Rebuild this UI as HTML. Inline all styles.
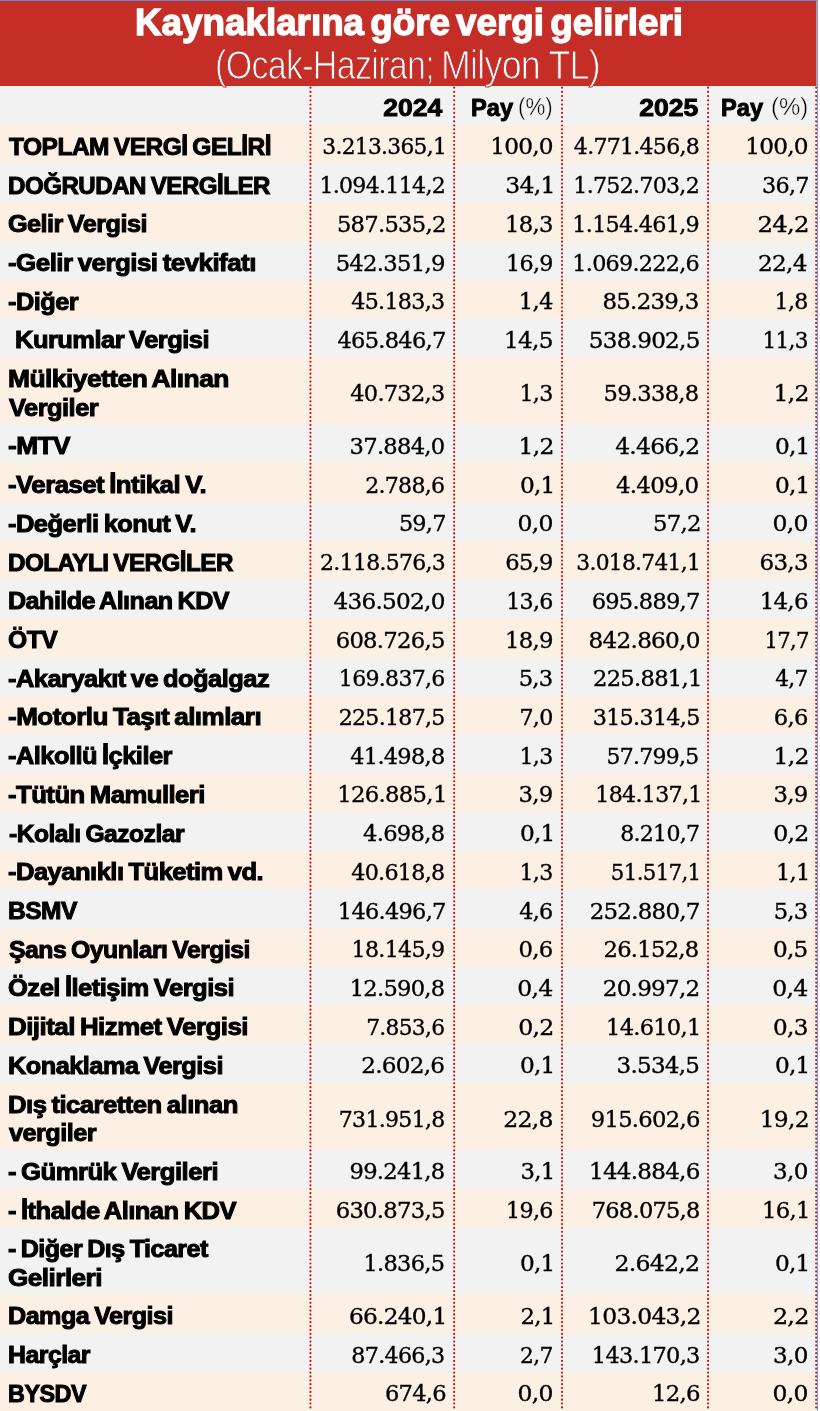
<!DOCTYPE html><html lang="tr"><head><meta charset="utf-8"><title>Kaynaklarına göre vergi gelirleri</title>
<style>
html,body{margin:0;padding:0;background:#fff}
body{width:820px;height:1411px;position:relative;overflow:hidden;font-family:"Liberation Sans", sans-serif;color:#000}
#wrap{position:absolute;left:0;top:0;width:817px;height:1411px;overflow:hidden;background:#f2f2f2}
#topline{position:absolute;left:0;top:0;width:818px;height:1px;background:#6688d8;z-index:5}
#rightline{position:absolute;left:817px;top:0;width:1px;height:1411px;background:#70a6fb;z-index:5}
#hdr{position:absolute;left:0;top:0;width:816px;height:86px;background:#c42e27;color:#fff;z-index:3;border-right:1px solid #dc8583}
.t{position:absolute;white-space:nowrap;transform-origin:0 0;line-height:1}
#t1{font-weight:700;font-size:36px;word-spacing:-4px;-webkit-text-stroke:1.3px #fff}
.t2{font-weight:400;font-size:40px;letter-spacing:-0.8px;-webkit-text-stroke:1px #c42e27}
.row{position:absolute;left:0;width:817px}
.p{background:#fcefe4}
.g{background:#f2f2f2}
.lab{position:absolute;left:0;top:0;white-space:nowrap;font-weight:700;font-size:24.4px;line-height:1;transform-origin:0 0;letter-spacing:-0.5px;word-spacing:-1.5px;-webkit-text-stroke:1.0px #000}
.num{position:absolute;top:0;white-space:nowrap;font-family:"DejaVu Serif","Liberation Serif", serif;font-size:21.8px;line-height:1;letter-spacing:-0.7px;transform-origin:100% 0;text-align:right;-webkit-text-stroke:0.35px #000}
.hb{position:absolute;white-space:nowrap;font-weight:700;font-size:23.5px;line-height:1;transform-origin:0 0;-webkit-text-stroke:0.9px #000}
.hp{position:absolute;white-space:nowrap;font-weight:400;font-size:23px;line-height:1;transform-origin:0 0;color:#000;-webkit-text-stroke:0.4px #f2f2f2}
</style></head><body>
<div id="wrap">
<div id="hdr">
<div class="t" id="t1" style="transform: scaleX(1.0221); top: 4.72px; left: 134.5px; transform-origin: 0px 0px;">Kaynaklarına göre vergi gelirleri</div>
<div class="t t2" id="t2" style="transform: scaleX(0.8496); top: 45.13px; left: 215px; transform-origin: 0px 0px;">(Ocak-Haziran;</div>
<div class="t t2" id="t3" style="transform: scaleX(0.8931); top: 45.13px; left: 440.5px; transform-origin: 0px 0px;">Milyon TL)</div>
</div>

<div class="row g" style="top:86px;height:39px">
<div class="hb" id="h1" style="transform: scaleX(1.1293); top: 10.7px; left: auto; right: 374.5px; transform-origin: 100% 0px;">2024</div><div class="hb" id="h2" style="transform: scaleX(1.0054); top: 10.7px; left: 471px; transform-origin: 0px 0px;">Pay</div><div class="hp" id="h3" style="transform: scaleX(0.9731); top: 10.13px; left: 518px; transform-origin: 0px 0px;">(%)</div><div class="hb" id="h4" style="transform: scaleX(1.1308); top: 10.7px; left: auto; right: 118.5px; transform-origin: 100% 0px;">2025</div><div class="hb" id="h5" style="transform: scaleX(1.0054); top: 10.7px; left: 721px; transform-origin: 0px 0px;">Pay</div><div class="hp" id="h6" style="transform: scaleX(1.0417); top: 10.13px; left: 771px; transform-origin: 0px 0px;">(%)</div>
</div>
<div class="row p" id="r0" style="top:125.00px;height:39.22px">
<div class="lab" id="l0_0" style="transform: scaleX(1.0048); top: 9.84px; left: 9px; transform-origin: 0px 0px;">TOPLAM VERGİ GELİRİ</div>
<div class="num" id="n0_0" style="right: 370.5px; transform: scaleX(0.9975); top: 11.45px; left: auto; transform-origin: 100% 0px;">3.213.365,1</div>
<div class="num" id="n0_1" style="right: 264.5px; transform: scaleX(1.0651); top: 11.45px; left: auto; transform-origin: 100% 0px;">100,0</div>
<div class="num" id="n0_2" style="right: 117.5px; transform: scaleX(1.0094); top: 11.45px; left: auto; transform-origin: 100% 0px;">4.771.456,8</div>
<div class="num" id="n0_3" style="right: 9.5px; transform: scaleX(1.0651); top: 11.45px; left: auto; transform-origin: 100% 0px;">100,0</div>
</div>
<div class="row g" id="r1" style="top:163.72px;height:39.22px">
<div class="lab" id="l1_0" style="transform: scaleX(0.9885); top: 9.84px; left: 8px; transform-origin: 0px 0px;">DOĞRUDAN VERGİLER</div>
<div class="num" id="n1_0" style="right: 371.5px; transform: scaleX(1.0131); top: 11.45px; left: auto; transform-origin: 100% 0px;">1.094.114,2</div>
<div class="num" id="n1_1" style="right: 262.5px; transform: scaleX(1.0813); top: 11.45px; left: auto; transform-origin: 100% 0px;">34,1</div>
<div class="num" id="n1_2" style="right: 117.5px; transform: scaleX(1.0139); top: 11.45px; left: auto; transform-origin: 100% 0px;">1.752.703,2</div>
<div class="num" id="n1_3" style="right: 8.5px; transform: scaleX(1.0229); top: 11.45px; left: auto; transform-origin: 100% 0px;">36,7</div>
</div>
<div class="row p" id="r2" style="top:202.44px;height:39.22px">
<div class="lab" id="l2_0" style="transform: scaleX(1.0345); top: 9.84px; left: 8px; transform-origin: 0px 0px;">Gelir Vergisi</div>
<div class="num" id="n2_0" style="right: 371.5px; transform: scaleX(1.0391); top: 11.46px; left: auto; transform-origin: 100% 0px;">587.535,2</div>
<div class="num" id="n2_1" style="right: 264.5px; transform: scaleX(1.0433); top: 11.46px; left: auto; transform-origin: 100% 0px;">18,3</div>
<div class="num" id="n2_2" style="right: 117.5px; transform: scaleX(1.0217); top: 11.46px; left: auto; transform-origin: 100% 0px;">1.154.461,9</div>
<div class="num" id="n2_3" style="right: 8.5px; transform: scaleX(1.118); top: 11.46px; left: auto; transform-origin: 100% 0px;">24,2</div>
</div>
<div class="row g" id="r3" style="top:241.16px;height:39.22px">
<div class="lab" id="l3_0" style="transform: scaleX(1.0635); top: 9.84px; left: 8px; transform-origin: 0px 0px;">-Gelir vergisi tevkifatı</div>
<div class="num" id="n3_0" style="right: 372.5px; transform: scaleX(1.0417); top: 11.46px; left: auto; transform-origin: 100% 0px;">542.351,9</div>
<div class="num" id="n3_1" style="right: 264.5px; transform: scaleX(1.0197); top: 11.46px; left: auto; transform-origin: 100% 0px;">16,9</div>
<div class="num" id="n3_2" style="right: 117.5px; transform: scaleX(1.0217); top: 11.46px; left: auto; transform-origin: 100% 0px;">1.069.222,6</div>
<div class="num" id="n3_3" style="right: 10.5px; transform: scaleX(1.0633); top: 11.46px; left: auto; transform-origin: 100% 0px;">22,4</div>
</div>
<div class="row p" id="r4" style="top:279.88px;height:39.22px">
<div class="lab" id="l4_0" style="transform: scaleX(1.0384); top: 9.85px; left: 8px; transform-origin: 0px 0px;">-Diğer</div>
<div class="num" id="n4_0" style="right: 372.5px; transform: scaleX(1.0188); top: 11.46px; left: auto; transform-origin: 100% 0px;">45.183,3</div>
<div class="num" id="n4_1" style="right: 264.5px; transform: scaleX(1.038); top: 11.46px; left: auto; transform-origin: 100% 0px;">1,4</div>
<div class="num" id="n4_2" style="right: 118.5px; transform: scaleX(1.0495); top: 11.46px; left: auto; transform-origin: 100% 0px;">85.239,3</div>
<div class="num" id="n4_3" style="right: 9.5px; transform: scaleX(1.013); top: 11.46px; left: auto; transform-origin: 100% 0px;">1,8</div>
</div>
<div class="row g" id="r5" style="top:318.60px;height:39.22px">
<div class="lab" id="l5_0" style="transform: scaleX(1.045); top: 9.85px; left: 15px; transform-origin: 0px 0px;">Kurumlar Vergisi</div>
<div class="num" id="n5_0" style="right: 371.5px; transform: scaleX(1.0339); top: 11.46px; left: auto; transform-origin: 100% 0px;">465.846,7</div>
<div class="num" id="n5_1" style="right: 264.5px; transform: scaleX(1.0632); top: 11.46px; left: auto; transform-origin: 100% 0px;">14,5</div>
<div class="num" id="n5_2" style="right: 117.5px; transform: scaleX(1.0598); top: 11.46px; left: auto; transform-origin: 100% 0px;">538.902,5</div>
<div class="num" id="n5_3" style="right: 9.5px; transform: scaleX(0.9917); top: 11.46px; left: auto; transform-origin: 100% 0px;">11,3</div>
</div>
<div class="row p" id="r6" style="top:357.32px;height:67.70px">
<div class="lab" id="l6_0" style="transform: scaleX(1.0822); top: 9.85px; left: 8px; transform-origin: 0px 0px;">Mülkiyetten Alınan</div>
<div class="lab" id="l6_1" style="transform: scaleX(1.0428); top: 38.55px; left: 9px; transform-origin: 0px 0px;">Vergiler</div>
<div class="num" id="n6_0" style="right: 372.5px; transform: scaleX(1.0298); top: 25.96px; left: auto; transform-origin: 100% 0px;">40.732,3</div>
<div class="num" id="n6_1" style="right: 264.5px; transform: scaleX(1.0162); top: 25.96px; left: auto; transform-origin: 100% 0px;">1,3</div>
<div class="num" id="n6_2" style="right: 118.5px; transform: scaleX(1.0383); top: 25.96px; left: auto; transform-origin: 100% 0px;">59.338,8</div>
<div class="num" id="n6_3" style="right: 8.5px; transform: scaleX(1.0756); top: 25.96px; left: auto; transform-origin: 100% 0px;">1,2</div>
</div>
<div class="row g" id="r7" style="top:424.52px;height:39.22px">
<div class="lab" id="l7_0" style="transform: scaleX(1.0763); top: 9.84px; left: 8px; transform-origin: 0px 0px;">-MTV</div>
<div class="num" id="n7_0" style="right: 372.5px; transform: scaleX(1.0375); top: 11.46px; left: auto; transform-origin: 100% 0px;">37.884,0</div>
<div class="num" id="n7_1" style="right: 263.5px; transform: scaleX(1.0756); top: 11.46px; left: auto; transform-origin: 100% 0px;">1,2</div>
<div class="num" id="n7_2" style="right: 117.5px; transform: scaleX(1.0744); top: 11.46px; left: auto; transform-origin: 100% 0px;">4.466,2</div>
<div class="num" id="n7_3" style="right: 7.5px; transform: scaleX(1.0642); top: 11.46px; left: auto; transform-origin: 100% 0px;">0,1</div>
</div>
<div class="row p" id="r8" style="top:463.24px;height:39.22px">
<div class="lab" id="l8_0" style="transform: scaleX(1.0578); top: 9.85px; left: 8px; transform-origin: 0px 0px;">-Veraset İntikal V.</div>
<div class="num" id="n8_0" style="right: 372.5px; transform: scaleX(1.0105); top: 11.46px; left: auto; transform-origin: 100% 0px;">2.788,6</div>
<div class="num" id="n8_1" style="right: 262.5px; transform: scaleX(1.0642); top: 11.46px; left: auto; transform-origin: 100% 0px;">0,1</div>
<div class="num" id="n8_2" style="right: 118.5px; transform: scaleX(1.0514); top: 11.46px; left: auto; transform-origin: 100% 0px;">4.409,0</div>
<div class="num" id="n8_3" style="right: 7.5px; transform: scaleX(1.0642); top: 11.46px; left: auto; transform-origin: 100% 0px;">0,1</div>
</div>
<div class="row g" id="r9" style="top:501.96px;height:39.22px">
<div class="lab" id="l9_0" style="transform: scaleX(1.0441); top: 9.85px; left: 8px; transform-origin: 0px 0px;">-Değerli konut V.</div>
<div class="num" id="n9_0" style="right: 371.5px; transform: scaleX(1.0245); top: 11.46px; left: auto; transform-origin: 100% 0px;">59,7</div>
<div class="num" id="n9_1" style="right: 264.5px; transform: scaleX(1.0774); top: 11.46px; left: auto; transform-origin: 100% 0px;">0,0</div>
<div class="num" id="n9_2" style="right: 116.5px; transform: scaleX(1.045); top: 11.46px; left: auto; transform-origin: 100% 0px;">57,2</div>
<div class="num" id="n9_3" style="right: 9.5px; transform: scaleX(1.0774); top: 11.46px; left: auto; transform-origin: 100% 0px;">0,0</div>
</div>
<div class="row p" id="r10" style="top:540.68px;height:39.22px">
<div class="lab" id="l10_0" style="transform: scaleX(0.9922); top: 9.85px; left: 8px; transform-origin: 0px 0px;">DOLAYLI VERGİLER</div>
<div class="num" id="n10_0" style="right: 371.5px; transform: scaleX(1.0073); top: 11.46px; left: auto; transform-origin: 100% 0px;">2.118.576,3</div>
<div class="num" id="n10_1" style="right: 264.5px; transform: scaleX(1.0383); top: 11.46px; left: auto; transform-origin: 100% 0px;">65,9</div>
<div class="num" id="n10_2" style="right: 116.5px; transform: scaleX(0.9978); top: 11.46px; left: auto; transform-origin: 100% 0px;">3.018.741,1</div>
<div class="num" id="n10_3" style="right: 9.5px; transform: scaleX(1.0523); top: 11.46px; left: auto; transform-origin: 100% 0px;">63,3</div>
</div>
<div class="row g" id="r11" style="top:579.40px;height:39.22px">
<div class="lab" id="l11_0" style="transform: scaleX(1.0291); top: 9.85px; left: 8px; transform-origin: 0px 0px;">Dahilde Alınan KDV</div>
<div class="num" id="n11_0" style="right: 372.5px; transform: scaleX(1.0626); top: 11.46px; left: auto; transform-origin: 100% 0px;">436.502,0</div>
<div class="num" id="n11_1" style="right: 264.5px; transform: scaleX(1.0169); top: 11.46px; left: auto; transform-origin: 100% 0px;">13,6</div>
<div class="num" id="n11_2" style="right: 117.5px; transform: scaleX(1.0318); top: 11.46px; left: auto; transform-origin: 100% 0px;">695.889,7</div>
<div class="num" id="n11_3" style="right: 9.5px; transform: scaleX(1.0516); top: 11.46px; left: auto; transform-origin: 100% 0px;">14,6</div>
</div>
<div class="row p" id="r12" style="top:618.12px;height:39.22px">
<div class="lab" id="l12_0" style="transform: scaleX(1.0101); top: 9.85px; left: 8px; transform-origin: 0px 0px;">ÖTV</div>
<div class="num" id="n12_0" style="right: 372.5px; transform: scaleX(1.0414); top: 11.46px; left: auto; transform-origin: 100% 0px;">608.726,5</div>
<div class="num" id="n12_1" style="right: 264.5px; transform: scaleX(1.0461); top: 11.46px; left: auto; transform-origin: 100% 0px;">18,9</div>
<div class="num" id="n12_2" style="right: 117.5px; transform: scaleX(1.0612); top: 11.46px; left: auto; transform-origin: 100% 0px;">842.860,0</div>
<div class="num" id="n12_3" style="right: 8.5px; transform: scaleX(0.9686); top: 11.46px; left: auto; transform-origin: 100% 0px;">17,7</div>
</div>
<div class="row g" id="r13" style="top:656.84px;height:39.22px">
<div class="lab" id="l13_0" style="transform: scaleX(1.0431); top: 9.85px; left: 8px; transform-origin: 0px 0px;">-Akaryakıt ve doğalgaz</div>
<div class="num" id="n13_0" style="right: 372.5px; transform: scaleX(1.0113); top: 11.46px; left: auto; transform-origin: 100% 0px;">169.837,6</div>
<div class="num" id="n13_1" style="right: 264.5px; transform: scaleX(1.0412); top: 11.46px; left: auto; transform-origin: 100% 0px;">5,3</div>
<div class="num" id="n13_2" style="right: 115.5px; transform: scaleX(1.0384); top: 11.46px; left: auto; transform-origin: 100% 0px;">225.881,1</div>
<div class="num" id="n13_3" style="right: 9.5px; transform: scaleX(0.9949); top: 11.46px; left: auto; transform-origin: 100% 0px;">4,7</div>
</div>
<div class="row p" id="r14" style="top:695.56px;height:39.22px">
<div class="lab" id="l14_0" style="transform: scaleX(1.0675); top: 9.85px; left: 8px; transform-origin: 0px 0px;">-Motorlu Taşıt alımları</div>
<div class="num" id="n14_0" style="right: 372.5px; transform: scaleX(1.013); top: 11.47px; left: auto; transform-origin: 100% 0px;">225.187,5</div>
<div class="num" id="n14_1" style="right: 264.5px; transform: scaleX(1.0167); top: 11.47px; left: auto; transform-origin: 100% 0px;">7,0</div>
<div class="num" id="n14_2" style="right: 117.5px; transform: scaleX(1.0219); top: 11.47px; left: auto; transform-origin: 100% 0px;">315.314,5</div>
<div class="num" id="n14_3" style="right: 9.5px; transform: scaleX(1.0374); top: 11.47px; left: auto; transform-origin: 100% 0px;">6,6</div>
</div>
<div class="row g" id="r15" style="top:734.28px;height:39.22px">
<div class="lab" id="l15_0" style="transform: scaleX(1.0428); top: 9.85px; left: 8px; transform-origin: 0px 0px;">-Alkollü İçkiler</div>
<div class="num" id="n15_0" style="right: 372.5px; transform: scaleX(1.0298); top: 11.47px; left: auto; transform-origin: 100% 0px;">41.498,8</div>
<div class="num" id="n15_1" style="right: 264.5px; transform: scaleX(1.0162); top: 11.47px; left: auto; transform-origin: 100% 0px;">1,3</div>
<div class="num" id="n15_2" style="right: 118.5px; transform: scaleX(1.0051); top: 11.47px; left: auto; transform-origin: 100% 0px;">57.799,5</div>
<div class="num" id="n15_3" style="right: 8.5px; transform: scaleX(1.0756); top: 11.47px; left: auto; transform-origin: 100% 0px;">1,2</div>
</div>
<div class="row p" id="r16" style="top:773.00px;height:39.22px">
<div class="lab" id="l16_0" style="transform: scaleX(1.0534); top: 9.84px; left: 8px; transform-origin: 0px 0px;">-Tütün Mamulleri</div>
<div class="num" id="n16_0" style="right: 370.5px; transform: scaleX(1.0447); top: 11.45px; left: auto; transform-origin: 100% 0px;">126.885,1</div>
<div class="num" id="n16_1" style="right: 264.5px; transform: scaleX(1.0429); top: 11.45px; left: auto; transform-origin: 100% 0px;">3,9</div>
<div class="num" id="n16_2" style="right: 115.5px; transform: scaleX(1.0164); top: 11.45px; left: auto; transform-origin: 100% 0px;">184.137,1</div>
<div class="num" id="n16_3" style="right: 9.5px; transform: scaleX(1.0429); top: 11.45px; left: auto; transform-origin: 100% 0px;">3,9</div>
</div>
<div class="row g" id="r17" style="top:811.72px;height:39.22px">
<div class="lab" id="l17_0" style="transform: scaleX(1.0087); top: 9.84px; left: 9px; transform-origin: 0px 0px;">-Kolalı Gazozlar</div>
<div class="num" id="n17_0" style="right: 372.5px; transform: scaleX(1.038); top: 11.45px; left: auto; transform-origin: 100% 0px;">4.698,8</div>
<div class="num" id="n17_1" style="right: 262.5px; transform: scaleX(1.0642); top: 11.45px; left: auto; transform-origin: 100% 0px;">0,1</div>
<div class="num" id="n17_2" style="right: 117.5px; transform: scaleX(1.0109); top: 11.45px; left: auto; transform-origin: 100% 0px;">8.210,7</div>
<div class="num" id="n17_3" style="right: 8.5px; transform: scaleX(1.0862); top: 11.45px; left: auto; transform-origin: 100% 0px;">0,2</div>
</div>
<div class="row p" id="r18" style="top:850.44px;height:39.22px">
<div class="lab" id="l18_0" style="transform: scaleX(1.0478); top: 9.84px; left: 8px; transform-origin: 0px 0px;">-Dayanıklı Tüketim vd.</div>
<div class="num" id="n18_0" style="right: 372.5px; transform: scaleX(1.0197); top: 11.46px; left: auto; transform-origin: 100% 0px;">40.618,8</div>
<div class="num" id="n18_1" style="right: 264.5px; transform: scaleX(1.0162); top: 11.46px; left: auto; transform-origin: 100% 0px;">1,3</div>
<div class="num" id="n18_2" style="right: 116.5px; transform: scaleX(0.9797); top: 11.46px; left: auto; transform-origin: 100% 0px;">51.517,1</div>
<div class="num" id="n18_3" style="right: 7.5px; transform: scaleX(1.0288); top: 11.46px; left: auto; transform-origin: 100% 0px;">1,1</div>
</div>
<div class="row g" id="r19" style="top:889.16px;height:39.22px">
<div class="lab" id="l19_0" style="transform: scaleX(1.0062); top: 9.84px; left: 8px; transform-origin: 0px 0px;">BSMV</div>
<div class="num" id="n19_0" style="right: 371.5px; transform: scaleX(1.0301); top: 11.46px; left: auto; transform-origin: 100% 0px;">146.496,7</div>
<div class="num" id="n19_1" style="right: 264.5px; transform: scaleX(1.0222); top: 11.46px; left: auto; transform-origin: 100% 0px;">4,6</div>
<div class="num" id="n19_2" style="right: 117.5px; transform: scaleX(1.0509); top: 11.46px; left: auto; transform-origin: 100% 0px;">252.880,7</div>
<div class="num" id="n19_3" style="right: 9.5px; transform: scaleX(1.0412); top: 11.46px; left: auto; transform-origin: 100% 0px;">5,3</div>
</div>
<div class="row p" id="r20" style="top:927.88px;height:39.22px">
<div class="lab" id="l20_0" style="transform: scaleX(1.0156); top: 9.85px; left: 9px; transform-origin: 0px 0px;">Şans Oyunları Vergisi</div>
<div class="num" id="n20_0" style="right: 372.5px; transform: scaleX(1.0158); top: 11.46px; left: auto; transform-origin: 100% 0px;">18.145,9</div>
<div class="num" id="n20_1" style="right: 264.5px; transform: scaleX(1.0442); top: 11.46px; left: auto; transform-origin: 100% 0px;">0,6</div>
<div class="num" id="n20_2" style="right: 118.5px; transform: scaleX(1.0386); top: 11.46px; left: auto; transform-origin: 100% 0px;">26.152,8</div>
<div class="num" id="n20_3" style="right: 9.5px; transform: scaleX(1.0607); top: 11.46px; left: auto; transform-origin: 100% 0px;">0,5</div>
</div>
<div class="row g" id="r21" style="top:966.60px;height:39.22px">
<div class="lab" id="l21_0" style="transform: scaleX(1.0484); top: 9.85px; left: 8px; transform-origin: 0px 0px;">Özel İletişim Vergisi</div>
<div class="num" id="n21_0" style="right: 372.5px; transform: scaleX(1.0367); top: 11.46px; left: auto; transform-origin: 100% 0px;">12.590,8</div>
<div class="num" id="n21_1" style="right: 264.5px; transform: scaleX(1.0808); top: 11.46px; left: auto; transform-origin: 100% 0px;">0,4</div>
<div class="num" id="n21_2" style="right: 117.5px; transform: scaleX(1.0579); top: 11.46px; left: auto; transform-origin: 100% 0px;">20.997,2</div>
<div class="num" id="n21_3" style="right: 9.5px; transform: scaleX(1.0808); top: 11.46px; left: auto; transform-origin: 100% 0px;">0,4</div>
</div>
<div class="row p" id="r22" style="top:1005.32px;height:39.22px">
<div class="lab" id="l22_0" style="transform: scaleX(1.0625); top: 9.85px; left: 8px; transform-origin: 0px 0px;">Dijital Hizmet Vergisi</div>
<div class="num" id="n22_0" style="right: 372.5px; transform: scaleX(0.9973); top: 11.46px; left: auto; transform-origin: 100% 0px;">7.853,6</div>
<div class="num" id="n22_1" style="right: 263.5px; transform: scaleX(1.0862); top: 11.46px; left: auto; transform-origin: 100% 0px;">0,2</div>
<div class="num" id="n22_2" style="right: 116.5px; transform: scaleX(1.0318); top: 11.46px; left: auto; transform-origin: 100% 0px;">14.610,1</div>
<div class="num" id="n22_3" style="right: 9.5px; transform: scaleX(1.0581); top: 11.46px; left: auto; transform-origin: 100% 0px;">0,3</div>
</div>
<div class="row g" id="r23" style="top:1044.04px;height:39.22px">
<div class="lab" id="l23_0" style="transform: scaleX(1.0387); top: 9.85px; left: 8px; transform-origin: 0px 0px;">Konaklama Vergisi</div>
<div class="num" id="n23_0" style="right: 372.5px; transform: scaleX(1.0601); top: 11.46px; left: auto; transform-origin: 100% 0px;">2.602,6</div>
<div class="num" id="n23_1" style="right: 262.5px; transform: scaleX(1.0642); top: 11.46px; left: auto; transform-origin: 100% 0px;">0,1</div>
<div class="num" id="n23_2" style="right: 117.5px; transform: scaleX(1.0579); top: 11.46px; left: auto; transform-origin: 100% 0px;">3.534,5</div>
<div class="num" id="n23_3" style="right: 7.5px; transform: scaleX(1.0642); top: 11.46px; left: auto; transform-origin: 100% 0px;">0,1</div>
</div>
<div class="row p" id="r24" style="top:1082.76px;height:67.70px">
<div class="lab" id="l24_0" style="transform: scaleX(1.0531); top: 9.85px; left: 8px; transform-origin: 0px 0px;">Dış ticaretten alınan</div>
<div class="lab" id="l24_1" style="transform: scaleX(1.0348); top: 38.55px; left: 9px; transform-origin: 0px 0px;">vergiler</div>
<div class="num" id="n24_0" style="right: 372.5px; transform: scaleX(1.012); top: 25.96px; left: auto; transform-origin: 100% 0px;">731.951,8</div>
<div class="num" id="n24_1" style="right: 264.5px; transform: scaleX(1.0809); top: 25.96px; left: auto; transform-origin: 100% 0px;">22,8</div>
<div class="num" id="n24_2" style="right: 117.5px; transform: scaleX(1.041); top: 25.96px; left: auto; transform-origin: 100% 0px;">915.602,6</div>
<div class="num" id="n24_3" style="right: 8.5px; transform: scaleX(1.071); top: 25.96px; left: auto; transform-origin: 100% 0px;">19,2</div>
</div>
<div class="row g" id="r25" style="top:1149.96px;height:39.22px">
<div class="lab" id="l25_0" style="transform: scaleX(1.0529); top: 9.85px; left: 8px; transform-origin: 0px 0px;">- Gümrük Vergileri</div>
<div class="num" id="n25_0" style="right: 372.5px; transform: scaleX(1.0386); top: 11.46px; left: auto; transform-origin: 100% 0px;">99.241,8</div>
<div class="num" id="n25_1" style="right: 262.5px; transform: scaleX(1.0452); top: 11.46px; left: auto; transform-origin: 100% 0px;">3,1</div>
<div class="num" id="n25_2" style="right: 117.5px; transform: scaleX(1.0578); top: 11.46px; left: auto; transform-origin: 100% 0px;">144.884,6</div>
<div class="num" id="n25_3" style="right: 9.5px; transform: scaleX(1.0581); top: 11.46px; left: auto; transform-origin: 100% 0px;">3,0</div>
</div>
<div class="row p" id="r26" style="top:1188.68px;height:39.22px">
<div class="lab" id="l26_0" style="transform: scaleX(1.0474); top: 9.85px; left: 8px; transform-origin: 0px 0px;">- İthalde Alınan KDV</div>
<div class="num" id="n26_0" style="right: 372.5px; transform: scaleX(1.0414); top: 11.46px; left: auto; transform-origin: 100% 0px;">630.873,5</div>
<div class="num" id="n26_1" style="right: 264.5px; transform: scaleX(1.0197); top: 11.46px; left: auto; transform-origin: 100% 0px;">19,6</div>
<div class="num" id="n26_2" style="right: 117.5px; transform: scaleX(1.0315); top: 11.46px; left: auto; transform-origin: 100% 0px;">768.075,8</div>
<div class="num" id="n26_3" style="right: 7.5px; transform: scaleX(1.0417); top: 11.46px; left: auto; transform-origin: 100% 0px;">16,1</div>
</div>
<div class="row g" id="r27" style="top:1227.40px;height:67.70px">
<div class="lab" id="l27_0" style="transform: scaleX(1.0286); top: 9.85px; left: 8px; transform-origin: 0px 0px;">- Diğer Dış Ticaret</div>
<div class="lab" id="l27_1" style="transform: scaleX(1.0715); top: 38.55px; left: 8px; transform-origin: 0px 0px;">Gelirleri</div>
<div class="num" id="n27_0" style="right: 372.5px; transform: scaleX(1.0315); top: 25.96px; left: auto; transform-origin: 100% 0px;">1.836,5</div>
<div class="num" id="n27_1" style="right: 262.5px; transform: scaleX(1.0642); top: 25.96px; left: auto; transform-origin: 100% 0px;">0,1</div>
<div class="num" id="n27_2" style="right: 117.5px; transform: scaleX(1.0839); top: 25.96px; left: auto; transform-origin: 100% 0px;">2.642,2</div>
<div class="num" id="n27_3" style="right: 7.5px; transform: scaleX(1.0642); top: 25.96px; left: auto; transform-origin: 100% 0px;">0,1</div>
</div>
<div class="row p" id="r28" style="top:1294.60px;height:39.22px">
<div class="lab" id="l28_0" style="transform: scaleX(1.0303); top: 9.85px; left: 8px; transform-origin: 0px 0px;">Damga Vergisi</div>
<div class="num" id="n28_0" style="right: 370.5px; transform: scaleX(1.0666); top: 11.46px; left: auto; transform-origin: 100% 0px;">66.240,1</div>
<div class="num" id="n28_1" style="right: 262.5px; transform: scaleX(1.0458); top: 11.46px; left: auto; transform-origin: 100% 0px;">2,1</div>
<div class="num" id="n28_2" style="right: 116.5px; transform: scaleX(1.0754); top: 11.46px; left: auto; transform-origin: 100% 0px;">103.043,2</div>
<div class="num" id="n28_3" style="right: 8.5px; transform: scaleX(1.0951); top: 11.46px; left: auto; transform-origin: 100% 0px;">2,2</div>
</div>
<div class="row g" id="r29" style="top:1333.32px;height:39.22px">
<div class="lab" id="l29_0" style="transform: scaleX(1.0181); top: 9.85px; left: 8px; transform-origin: 0px 0px;">Harçlar</div>
<div class="num" id="n29_0" style="right: 372.5px; transform: scaleX(1.0181); top: 11.46px; left: auto; transform-origin: 100% 0px;">87.466,3</div>
<div class="num" id="n29_1" style="right: 264.5px; transform: scaleX(0.999); top: 11.46px; left: auto; transform-origin: 100% 0px;">2,7</div>
<div class="num" id="n29_2" style="right: 117.5px; transform: scaleX(1.0299); top: 11.46px; left: auto; transform-origin: 100% 0px;">143.170,3</div>
<div class="num" id="n29_3" style="right: 9.5px; transform: scaleX(1.0581); top: 11.46px; left: auto; transform-origin: 100% 0px;">3,0</div>
</div>
<div class="row p" id="r30" style="top:1372.04px;height:39.22px">
<div class="lab" id="l30_0" style="transform: scaleX(0.9572); top: 9.85px; left: 8px; transform-origin: 0px 0px;">BYSDV</div>
<div class="num" id="n30_0" style="right: 371.5px; transform: scaleX(1.0355); top: 11.46px; left: auto; transform-origin: 100% 0px;">674,6</div>
<div class="num" id="n30_1" style="right: 264.5px; transform: scaleX(1.0774); top: 11.46px; left: auto; transform-origin: 100% 0px;">0,0</div>
<div class="num" id="n30_2" style="right: 117.5px; transform: scaleX(1.0458); top: 11.46px; left: auto; transform-origin: 100% 0px;">12,6</div>
<div class="num" id="n30_3" style="right: 9.5px; transform: scaleX(1.0774); top: 11.46px; left: auto; transform-origin: 100% 0px;">0,0</div>
</div>
<svg id="dots" width="817" height="1411" viewBox="0 0 817 1411" style="position:absolute;left:0;top:0;pointer-events:none"><defs><g id="dl"><line x1="0" x2="0" y1="83.50" y2="125.00" stroke-dasharray="0 4.200"></line><line x1="0" x2="0" y1="125.50" y2="163.72" stroke-dasharray="0 3.872"></line><line x1="0" x2="0" y1="164.22" y2="202.44" stroke-dasharray="0 3.872"></line><line x1="0" x2="0" y1="202.94" y2="241.16" stroke-dasharray="0 3.872"></line><line x1="0" x2="0" y1="241.66" y2="279.88" stroke-dasharray="0 3.872"></line><line x1="0" x2="0" y1="280.38" y2="318.60" stroke-dasharray="0 3.872"></line><line x1="0" x2="0" y1="319.10" y2="357.32" stroke-dasharray="0 3.872"></line><line x1="0" x2="0" y1="357.82" y2="424.52" stroke-dasharray="0 3.953"></line><line x1="0" x2="0" y1="425.02" y2="463.24" stroke-dasharray="0 3.872"></line><line x1="0" x2="0" y1="463.74" y2="501.96" stroke-dasharray="0 3.872"></line><line x1="0" x2="0" y1="502.46" y2="540.68" stroke-dasharray="0 3.872"></line><line x1="0" x2="0" y1="541.18" y2="579.40" stroke-dasharray="0 3.872"></line><line x1="0" x2="0" y1="579.90" y2="618.12" stroke-dasharray="0 3.872"></line><line x1="0" x2="0" y1="618.62" y2="656.84" stroke-dasharray="0 3.872"></line><line x1="0" x2="0" y1="657.34" y2="695.56" stroke-dasharray="0 3.872"></line><line x1="0" x2="0" y1="696.06" y2="734.28" stroke-dasharray="0 3.872"></line><line x1="0" x2="0" y1="734.78" y2="773.00" stroke-dasharray="0 3.872"></line><line x1="0" x2="0" y1="773.50" y2="811.72" stroke-dasharray="0 3.872"></line><line x1="0" x2="0" y1="812.22" y2="850.44" stroke-dasharray="0 3.872"></line><line x1="0" x2="0" y1="850.94" y2="889.16" stroke-dasharray="0 3.872"></line><line x1="0" x2="0" y1="889.66" y2="927.88" stroke-dasharray="0 3.872"></line><line x1="0" x2="0" y1="928.38" y2="966.60" stroke-dasharray="0 3.872"></line><line x1="0" x2="0" y1="967.10" y2="1005.32" stroke-dasharray="0 3.872"></line><line x1="0" x2="0" y1="1005.82" y2="1044.04" stroke-dasharray="0 3.872"></line><line x1="0" x2="0" y1="1044.54" y2="1082.76" stroke-dasharray="0 3.872"></line><line x1="0" x2="0" y1="1083.26" y2="1149.96" stroke-dasharray="0 3.953"></line><line x1="0" x2="0" y1="1150.46" y2="1188.68" stroke-dasharray="0 3.872"></line><line x1="0" x2="0" y1="1189.18" y2="1227.40" stroke-dasharray="0 3.872"></line><line x1="0" x2="0" y1="1227.90" y2="1294.60" stroke-dasharray="0 3.953"></line><line x1="0" x2="0" y1="1295.10" y2="1333.32" stroke-dasharray="0 3.872"></line><line x1="0" x2="0" y1="1333.82" y2="1372.04" stroke-dasharray="0 3.872"></line><line x1="0" x2="0" y1="1372.54" y2="1410.76" stroke-dasharray="0 3.872"></line></g></defs><g stroke="#cc1510" stroke-width="2.2" stroke-linecap="round"><use href="#dl" x="310.45"></use><use href="#dl" x="454.15"></use><use href="#dl" x="562.03"></use><use href="#dl" x="708.10"></use><use href="#dl" x="816.20"></use></g></svg>
</div><div id="topline"></div><div id="rightline"></div>
</body></html>
